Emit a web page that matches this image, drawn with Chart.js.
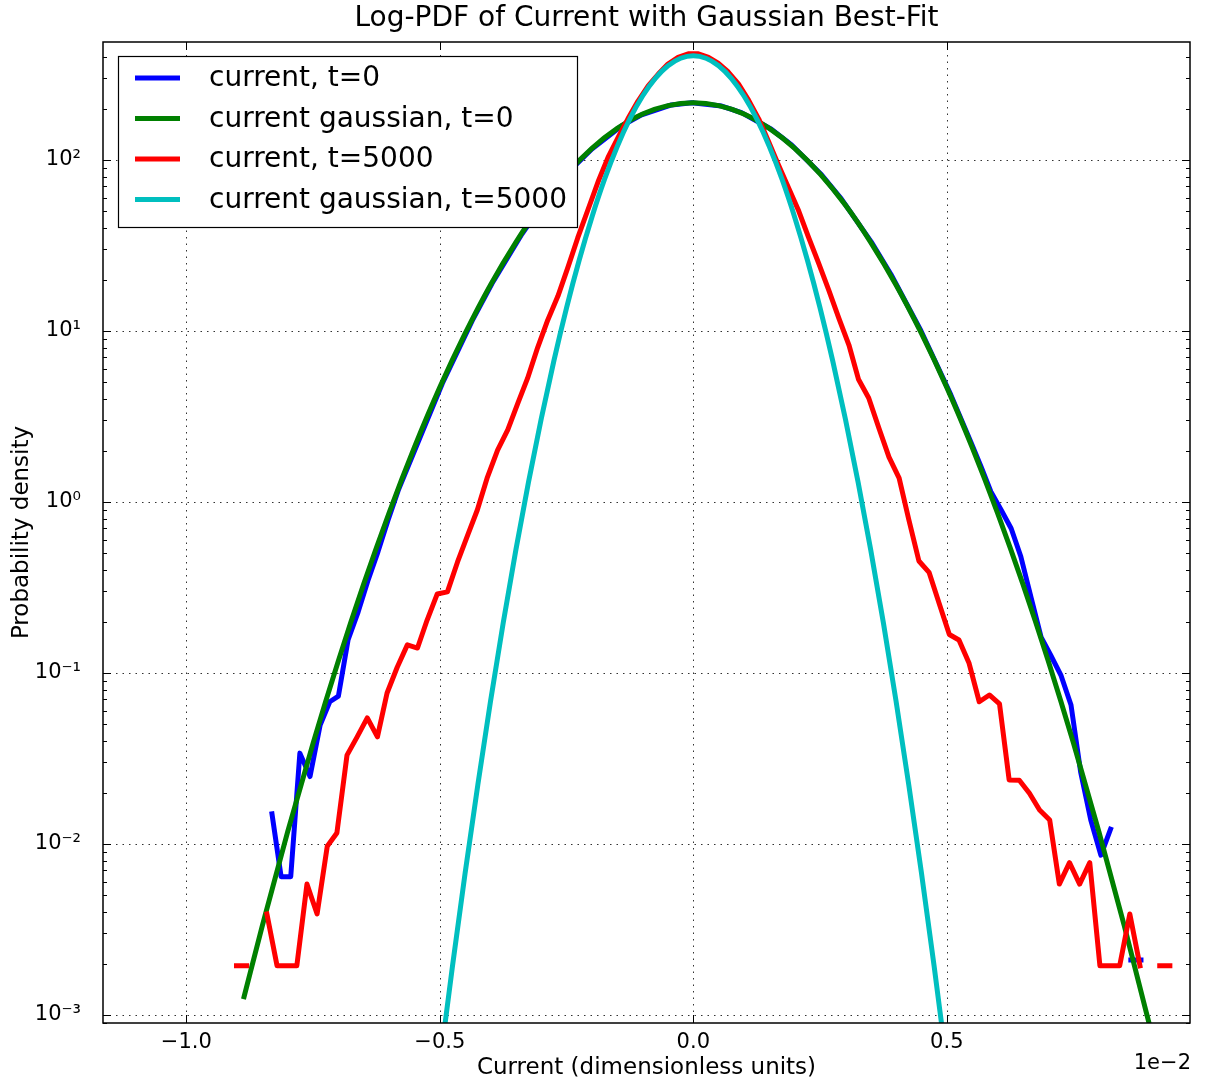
<!DOCTYPE html>
<html>
<head>
<meta charset="utf-8">
<script src="https://cdn.jsdelivr.net/npm/chart.js@4.4.1/dist/chart.umd.min.js"></script>
<style>
  html, body { margin: 0; padding: 0; background: #fff; }
  #wrap { width: 1205px; height: 1084px; }
</style>
</head>
<body>
<div id="wrap"><canvas id="pdfChart" width="1205" height="1084"></canvas></div>
<script>
// axis ticks
const xTickValues = [-1.0, -0.5, 0.0, 0.5];
const xTickLabels = ['\u22121.0', '\u22120.5', '0.0', '0.5'];
const yTickValues = [1e-3, 1e-2, 1e-1, 1, 10, 100];
const yTickLabels = ['10\u207B\u00B3', '10\u207B\u00B2', '10\u207B\u00B9', '10\u2070', '10\u00B9', '10\u00B2'];

// current, t=0 (histogram, units of 1e-2)
const blueX = [-0.831, -0.813, -0.794, -0.776, -0.756, -0.736, -0.717, -0.700, -0.681, -0.661,
  -0.642, -0.622, -0.602, -0.582, -0.535, -0.495, -0.436, -0.397, -0.338, -0.298,
  -0.239, -0.200, -0.141, -0.102, -0.043, -0.003, 0.056, 0.095, 0.154, 0.194,
  0.253, 0.292, 0.351, 0.390, 0.449, 0.508, 0.548, 0.568, 0.587, 0.607,
  0.627, 0.646, 0.666, 0.686, 0.705, 0.725, 0.745, 0.764, 0.784, 0.804,
  0.823, 0.843, 0.863, 0.883];
const blueY = [0.0150, 0.00644, 0.00644, 0.0340, 0.0248, 0.0497, 0.0679, 0.0733, 0.156, 0.228,
  0.345, 0.511, 0.785, 1.17, 2.55, 4.93, 11.49, 18.94, 36.9, 54.6,
  89.1, 116.0, 158.5, 183.5, 209.8, 216.2, 206.6, 189.2, 151.4, 122.5,
  82.0, 59.3, 33.2, 21.4, 10.03, 4.23, 2.22, 1.60, 1.15, 0.90,
  0.70, 0.480, 0.278, 0.162, 0.127, 0.0973, 0.065, 0.0264, 0.0138, 0.0086,
  0.0122, null, 0.0021, 0.0021];

// current gaussian, t=0
const greenX = [-0.886, -0.85, -0.80, -0.75, -0.70, -0.65, -0.60, -0.55, -0.50, -0.45,
  -0.40, -0.35, -0.30, -0.25, -0.20, -0.15, -0.10, -0.05, 0.0, 0.05,
  0.10, 0.15, 0.20, 0.25, 0.30, 0.35, 0.40, 0.45, 0.50, 0.55,
  0.60, 0.65, 0.70, 0.75, 0.80, 0.85, 0.90, 0.95];
const greenY = [0.00128, 0.00333, 0.0118, 0.0388, 0.118, 0.332, 0.865, 2.09, 4.68, 9.68,
  18.6, 33.0, 54.5, 83.0, 117, 153, 186, 208, 216, 208,
  186, 153, 117, 83.0, 54.5, 33.0, 18.6, 9.68, 4.68, 2.09,
  0.865, 0.332, 0.118, 0.0388, 0.0118, 0.00333, 0.00087, 0.00021];

// current, t=5000 (histogram)
const redX = [-0.901, -0.881, -0.861, -0.841, -0.821, -0.802, -0.782, -0.762, -0.742, -0.722,
  -0.703, -0.683, -0.663, -0.643, -0.623, -0.604, -0.584, -0.564, -0.544, -0.525,
  -0.505, -0.485, -0.465, -0.445, -0.426, -0.406, -0.386, -0.366, -0.346, -0.327,
  -0.307, -0.287, -0.267, -0.247, -0.228, -0.208, -0.188, -0.168, -0.148, -0.129,
  -0.109, -0.089, -0.069, -0.050, -0.030, -0.010, 0.010, 0.030, 0.049, 0.069,
  0.089, 0.109, 0.129, 0.148, 0.168, 0.188, 0.208, 0.227, 0.247, 0.267,
  0.287, 0.307, 0.326, 0.346, 0.366, 0.386, 0.406, 0.425, 0.445, 0.465,
  0.485, 0.505, 0.524, 0.544, 0.564, 0.584, 0.604, 0.623, 0.643, 0.663,
  0.683, 0.703, 0.722, 0.742, 0.762, 0.782, 0.802, 0.821, 0.841, 0.861,
  0.881, 0.901, 0.920, 0.940];
const redY = [0.00194, 0.00194, null, 0.0039, 0.00194, 0.00194, 0.00194, 0.00583, 0.0039, 0.0097,
  0.0116, 0.0331, 0.0423, 0.0546, 0.0423, 0.0764, 0.108, 0.146, 0.140, 0.204,
  0.290, 0.298, 0.446, 0.641, 0.898, 1.40, 2.01, 2.64, 3.79, 5.28,
  8.0, 11.6, 16.0, 23.7, 35.0, 51.0, 74.3, 104, 136, 174,
  221, 271, 318, 364, 398, 418, 418, 398, 368, 327,
  279, 224, 174, 129, 93.6, 68.6, 50.3, 35.5, 25.0, 17.4,
  11.9, 8.28, 5.2, 4.06, 2.71, 1.83, 1.38, 0.79, 0.452, 0.388,
  0.255, 0.168, 0.156, 0.114, 0.0679, 0.0744, 0.0659, 0.0237, 0.0236, 0.0198,
  0.0158, 0.0138, 0.00583, 0.00778, 0.00583, 0.00778, 0.00194, 0.00194, 0.00194, 0.0039,
  0.00194, null, 0.00194, 0.00194];

// current gaussian, t=5000
const cyanX = [-0.5, -0.475, -0.45, -0.425, -0.4, -0.375, -0.35, -0.325, -0.3, -0.275,
  -0.25, -0.225, -0.2, -0.175, -0.15, -0.125, -0.1, -0.075, -0.05, -0.025,
  0.0, 0.025, 0.05, 0.075, 0.1, 0.125, 0.15, 0.175, 0.2, 0.225,
  0.25, 0.275, 0.3, 0.325, 0.35, 0.375, 0.4, 0.425, 0.45, 0.475, 0.5];
const cyanY = [0.000513, 0.00193, 0.00678, 0.0222, 0.0682, 0.196, 0.524, 1.31, 3.06, 6.69,
  13.65, 26.0, 46.3, 77.2, 119.9, 174.3, 236.6, 300, 355.6, 393.6,
  407, 393.6, 355.6, 300, 236.6, 174.3, 119.9, 77.2, 46.3, 26.0,
  13.65, 6.69, 3.06, 1.31, 0.524, 0.196, 0.0682, 0.0222, 0.00678, 0.00193, 0.000513];

const FONT = 'DejaVu Sans';

function toPoints(xs, ys) {
  return xs.map((x, i) => ({ x: x, y: ys[i] }));
}

function lineSet(label, xs, ys, color, order, smooth) {
  return {
    label: label,
    data: toPoints(xs, ys),
    borderColor: color,
    backgroundColor: color,
    borderWidth: 5,
    pointRadius: 0,
    pointHoverRadius: 0,
    fill: false,
    tension: smooth ? 0.4 : 0,
    cubicInterpolationMode: smooth ? 'monotone' : 'default',
    spanGaps: false,
    clip: 0,
    borderCapStyle: 'square',
    borderJoinStyle: 'round',
    order: order
  };
}

// dotted grid, frame with inward ticks, legend box, offset text
const decorations = {
  id: 'decorations',
  beforeDatasetsDraw(chart) {
    const { ctx, chartArea: a, scales: { x, y } } = chart;
    ctx.save();
    ctx.strokeStyle = '#333';
    ctx.lineWidth = 1;
    ctx.setLineDash([1.5, 5]);
    xTickValues.forEach(v => {
      const px = Math.round(x.getPixelForValue(v)) + 0.5;
      ctx.beginPath(); ctx.moveTo(px, a.top); ctx.lineTo(px, a.bottom); ctx.stroke();
    });
    yTickValues.forEach(v => {
      const py = Math.round(y.getPixelForValue(v)) + 0.5;
      ctx.beginPath(); ctx.moveTo(a.left, py); ctx.lineTo(a.right, py); ctx.stroke();
    });
    ctx.restore();
  },
  afterDatasetsDraw(chart) {
    const { ctx, chartArea: a, scales: { x, y } } = chart;
    ctx.save();
    ctx.strokeStyle = '#000';
    ctx.lineWidth = 1;
    // major x ticks, top and bottom
    xTickValues.forEach(v => {
      const px = Math.round(x.getPixelForValue(v)) + 0.5;
      ctx.beginPath();
      ctx.moveTo(px, a.bottom); ctx.lineTo(px, a.bottom - 8);
      ctx.moveTo(px, a.top); ctx.lineTo(px, a.top + 8);
      ctx.stroke();
    });
    // log ticks on both sides
    const e0 = Math.floor(Math.log10(y.min)), e1 = Math.ceil(Math.log10(y.max));
    for (let e = e0; e <= e1; e++) {
      for (let m = 1; m <= 9; m++) {
        const v = m * Math.pow(10, e);
        if (v < y.min || v > y.max) continue;
        const py = Math.round(y.getPixelForValue(v)) + 0.5;
        const len = m === 1 ? 8 : 4;
        ctx.beginPath();
        ctx.moveTo(a.left, py); ctx.lineTo(a.left + len, py);
        ctx.moveTo(a.right, py); ctx.lineTo(a.right - len, py);
        ctx.stroke();
      }
    }
    // frame
    ctx.lineWidth = 1.5;
    ctx.strokeRect(a.left, a.top, a.right - a.left, a.bottom - a.top);

    // legend
    const bx = 118, by = 56, bw = 459, bh = 171;
    ctx.fillStyle = '#fff';
    ctx.fillRect(bx, by, bw, bh);
    ctx.lineWidth = 1.2;
    ctx.strokeStyle = '#000';
    ctx.strokeRect(bx + 0.5, by + 0.5, bw, bh);
    ctx.font = '28px "' + FONT + '"';
    ctx.textBaseline = 'middle';
    ctx.textAlign = 'left';
    chart.data.datasets.forEach((ds, i) => {
      const ly = by + 22 + i * 40.5;
      ctx.strokeStyle = ds.borderColor;
      ctx.lineWidth = 5;
      ctx.lineCap = 'butt';
      ctx.beginPath(); ctx.moveTo(135, ly); ctx.lineTo(180, ly); ctx.stroke();
      ctx.fillStyle = '#000';
      ctx.fillText(ds.label, 209, ly + 1);
    });

    // x offset text
    ctx.font = '21px "' + FONT + '"';
    ctx.textAlign = 'right';
    ctx.fillText('1e\u22122', 1191, 1064);
    ctx.restore();
  }
};

new Chart(document.getElementById('pdfChart').getContext('2d'), {
  type: 'line',
  data: {
    datasets: [
      lineSet('current, t=0', blueX, blueY, '#0000ff', 4, false),
      lineSet('current gaussian, t=0', greenX, greenY, '#008000', 3, true),
      lineSet('current, t=5000', redX, redY, '#ff0000', 2, false),
      lineSet('current gaussian, t=5000', cyanX, cyanY, '#00bfbf', 1, true)
    ]
  },
  options: {
    responsive: false,
    animation: false,
    devicePixelRatio: 1,
    layout: { padding: { left: 0, right: 15, top: 0, bottom: 0 } },
    plugins: {
      legend: { display: false },
      tooltip: { enabled: false },
      title: {
        display: true,
        fullSize: false,
        text: 'Log-PDF of Current with Gaussian Best-Fit',
        color: '#000',
        font: { family: FONT, size: 28, weight: 'normal' },
        padding: { top: 2, bottom: 6.4 }
      }
    },
    scales: {
      x: {
        type: 'linear',
        min: -1.1643,
        max: 0.9797,
        afterBuildTicks: s => { s.ticks = xTickValues.map(v => ({ value: v })); },
        afterFit: s => { s.height = 61; },
        grid: { display: false, drawTicks: false },
        border: { display: false },
        ticks: {
          autoSkip: false,
          maxRotation: 0,
          padding: 7,
          color: '#000',
          font: { family: FONT, size: 21 },
          callback: (v, i) => xTickLabels[i]
        },
        title: {
          display: true,
          text: 'Current (dimensionless units)',
          color: '#000',
          font: { family: FONT, size: 23 },
          padding: { top: 0, bottom: 2 }
        }
      },
      y: {
        type: 'logarithmic',
        min: 0.000898,
        max: 489.8,
        afterBuildTicks: s => { s.ticks = yTickValues.map(v => ({ value: v })); },
        afterFit: s => { s.width = 103; },
        grid: { display: false, drawTicks: false },
        border: { display: false },
        ticks: {
          autoSkip: false,
          padding: 22,
          color: '#000',
          font: { family: FONT, size: 21 },
          callback: (v, i) => yTickLabels[i]
        },
        title: {
          display: true,
          text: 'Probability density',
          color: '#000',
          font: { family: FONT, size: 23 },
          padding: { top: 8, bottom: 0 }
        }
      }
    }
  },
  plugins: [decorations]
});
</script>
</body>
</html>
